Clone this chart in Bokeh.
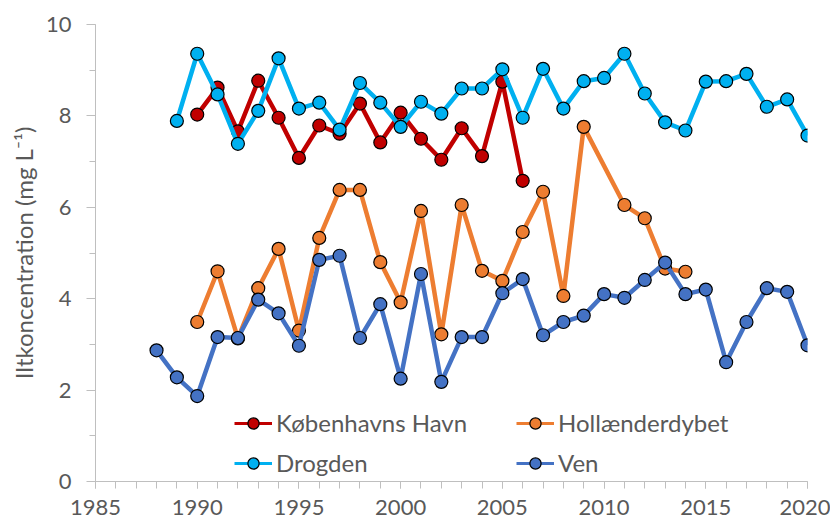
from bokeh.plotting import figure
from bokeh.models import Range1d, SingleIntervalTicker, Legend, LegendItem
from bokeh.embed import file_html
from bokeh.resources import INLINE

# ---- data ----
kbh_years = [1990, 1991, 1992, 1993, 1994, 1995, 1996, 1997, 1998, 1999,
             2000, 2001, 2002, 2003, 2004, 2005, 2006]
kbh_vals = [8.03, 8.62, 7.66, 8.77, 7.96, 7.08, 7.79, 7.61, 8.27, 7.42,
            8.07, 7.50, 7.04, 7.73, 7.12, 8.75, 6.58]

hol_years = [1990, 1991, 1992, 1993, 1994, 1995, 1996, 1997, 1998, 1999,
             2000, 2001, 2002, 2003, 2004, 2005, 2006, 2007, 2008, 2009,
             2011, 2012, 2013, 2014]
hol_vals = [3.49, 4.60, 3.13, 4.23, 5.09, 3.30, 5.33, 6.38, 6.38, 4.80,
            3.92, 5.92, 3.22, 6.05, 4.61, 4.39, 5.46, 6.34, 4.06, 7.76,
            6.05, 5.76, 4.66, 4.59]

dro_years = list(range(1989, 2021))
dro_vals = [7.89, 9.36, 8.47, 7.39, 8.11, 9.26, 8.16, 8.29, 7.70, 8.72,
            8.29, 7.76, 8.31, 8.05, 8.60, 8.60, 9.02, 7.96, 9.03, 8.16,
            8.76, 8.83, 9.36, 8.49, 7.86, 7.68, 8.75, 8.76, 8.92, 8.20,
            8.36, 7.57]

ven_years = list(range(1988, 2021))
ven_vals = [2.87, 2.28, 1.87, 3.16, 3.14, 3.98, 3.68, 2.97, 4.85, 4.94,
            3.14, 3.88, 2.25, 4.54, 2.18, 3.16, 3.16, 4.12, 4.43, 3.20,
            3.49, 3.63, 4.10, 4.02, 4.41, 4.79, 4.10, 4.20, 2.61, 3.49,
            4.23, 4.15, 2.98]

series = [
    ("Københavns Havn", kbh_years, kbh_vals, "#C00000"),
    ("Hollænderdybet", hol_years, hol_vals, "#ED7D31"),
    ("Drogden", dro_years, dro_vals, "#00B0F0"),
    ("Ven", ven_years, ven_vals, "#4472C4"),
]

FONT = "Lato"
TXT = "#595959"

p = figure(width=830, height=525, output_backend="svg", toolbar_location=None,
           x_range=Range1d(1985, 2020), y_range=Range1d(0, 10),
           min_border_left=95, min_border_right=23, min_border_top=24,
           min_border_bottom=44)
p.outline_line_color = None
p.grid.visible = False
p.background_fill_color = "white"

# axes
p.xaxis.ticker = SingleIntervalTicker(interval=5, num_minor_ticks=5)
p.yaxis.ticker = SingleIntervalTicker(interval=2, num_minor_ticks=2)
for ax in (p.xaxis[0], p.yaxis[0]):
    ax.axis_line_color = "#bfbfbf"
    ax.major_tick_line_color = "#bfbfbf"
    ax.minor_tick_line_color = "#bfbfbf"
    ax.major_tick_in = 0
    ax.minor_tick_in = 0
    ax.major_label_text_font = FONT
    ax.major_label_text_font_size = "22px"
    ax.major_label_text_color = TXT
p.xaxis.major_tick_out = 7
p.xaxis.minor_tick_out = 7
p.xaxis.major_label_standoff = 11
p.yaxis.major_tick_out = 9
p.yaxis.minor_tick_out = 6
p.yaxis.major_label_standoff = 15
p.yaxis.axis_label = "Iltkoncentration (mg L⁻¹)"
p.yaxis.axis_label_text_font = FONT
p.yaxis.axis_label_text_font_size = "24px"
p.yaxis.axis_label_text_font_style = "normal"
p.yaxis.axis_label_text_color = TXT
p.yaxis.axis_label_standoff = 5

NAN = float("nan")
items = {}
for name, xs, ys, col in series:
    p.line(xs, ys, line_color=col, line_width=4.5)
    p.scatter(xs, ys, size=13, fill_color=col, line_color="black",
              line_width=1.2)
    # legend key glyphs (a single NaN point, never drawn in the plot)
    lr = p.line([NAN], [NAN], line_color=col, line_width=3)
    sr = p.scatter([NAN], [NAN], size=14, fill_color=col, line_color="black",
                   line_width=1.2)
    items[name] = LegendItem(label=name, renderers=[lr, sr])

def make_legend(names, loc):
    lg = Legend(items=[items[n] for n in names], location=loc,
                orientation="vertical")
    lg.background_fill_alpha = 0
    lg.border_line_color = None
    lg.padding = 0
    lg.margin = 0
    lg.spacing = 11
    lg.glyph_width = 38
    lg.glyph_height = 28
    lg.label_height = 28
    lg.label_standoff = 4
    lg.label_text_font = FONT
    lg.label_text_font_size = "24px"
    lg.label_text_color = TXT
    return lg

p.add_layout(make_legend(["Københavns Havn", "Drogden"], (139, 4)))
p.add_layout(make_legend(["Hollænderdybet", "Ven"], (421, 4)))

open("out.html", "w").write(file_html(p, INLINE))
